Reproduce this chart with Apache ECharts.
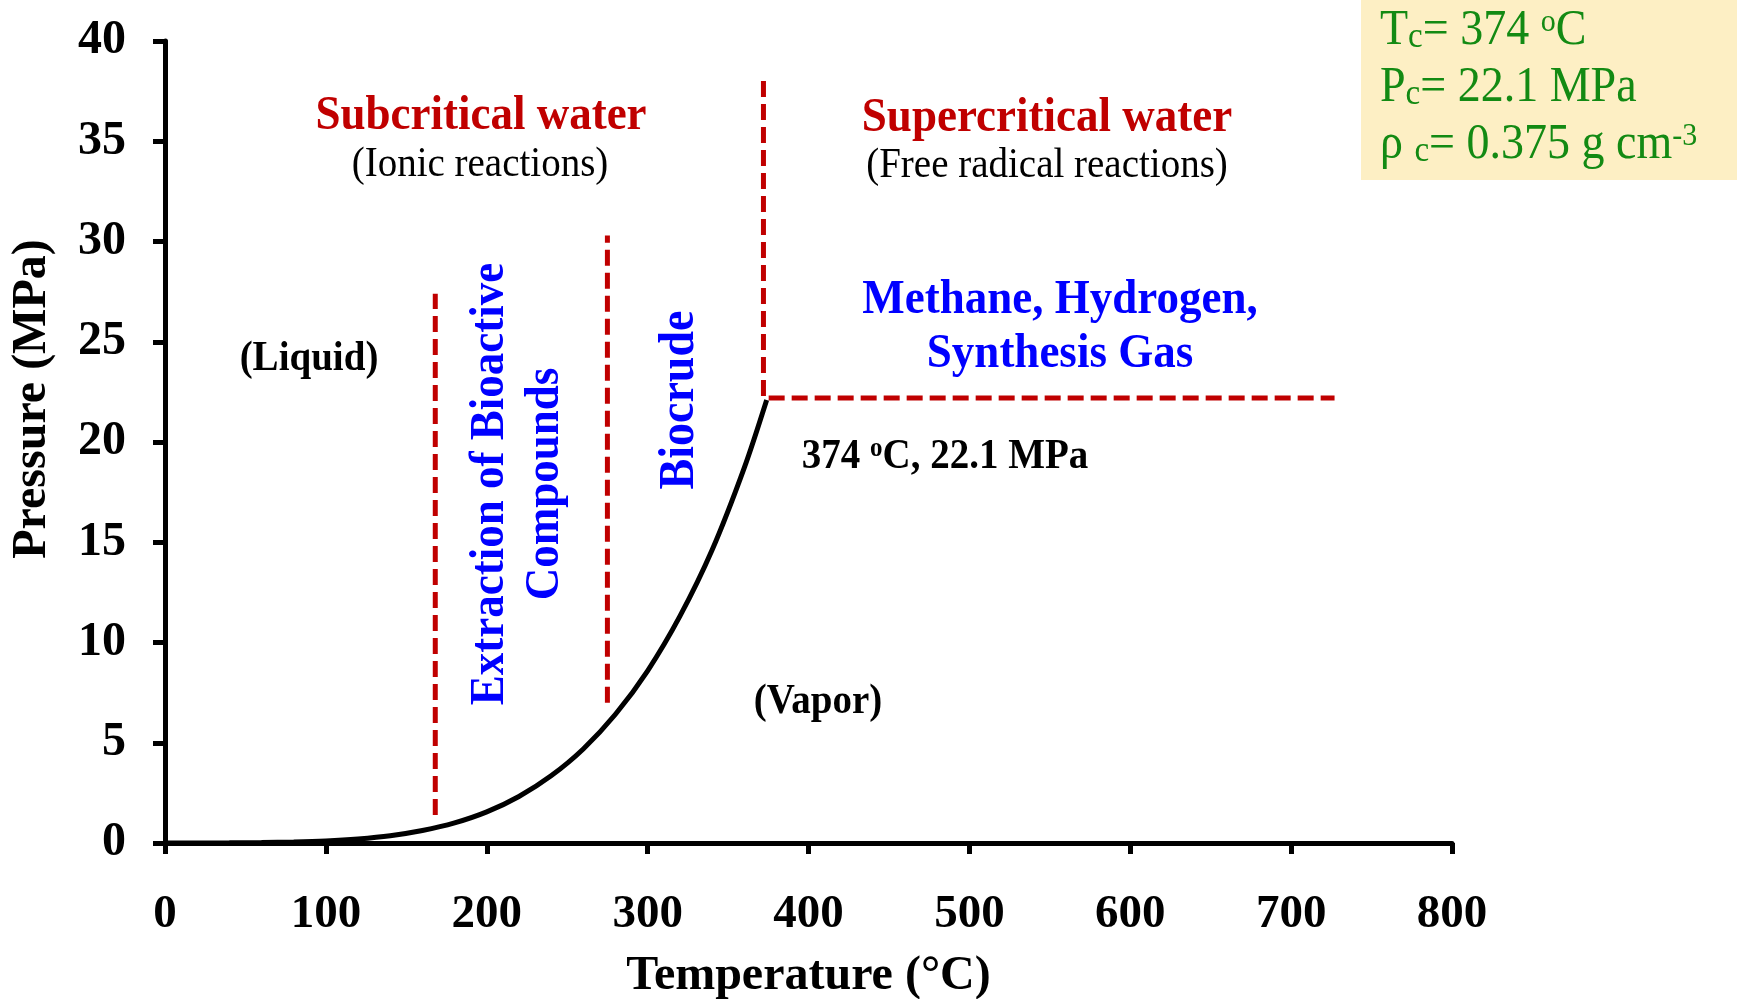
<!DOCTYPE html>
<html>
<head>
<meta charset="utf-8">
<script src="https://cdn.jsdelivr.net/npm/echarts@6/dist/echarts.min.js"></script>
<style>
  html, body { margin: 0; padding: 0; background: #fff; }
  #chart { width: 1737px; height: 999px; }
</style>
</head>
<body>
<div id="chart"></div>
<script>
// saturation curve of water (°C, MPa)
const curveTemps = [0, 20, 40, 60, 80, 100, 120, 140, 160, 180, 200, 220, 240, 260, 280, 300, 320, 340, 360, 374];
const curvePress = [0.0006, 0.0023, 0.0074, 0.02, 0.047, 0.10, 0.20, 0.36, 0.62, 1.0, 1.55, 2.32, 3.35, 4.69, 6.42, 8.59, 11.3, 14.6, 18.7, 22.1];

// red dashed region boundaries [temp, pressure]
const extractionLine = [[168, 1.4], [168, 27.4]];
const biocrudeLine = [[275, 7.0], [275, 30.3]];
const criticalLine = [[372, 38.0], [372, 22.2], [727, 22.2]];

const xTicks = { min: 0, max: 800, step: 100 };
const yTicks = { min: 0, max: 40, step: 5 };

const SERIF = "'Liberation Serif', 'Times New Roman', serif";
const RED = '#C00000';
const BLUE = '#0000FF';
const GREEN = '#138A13';

const chart = echarts.init(document.getElementById('chart'), null, { renderer: 'canvas' });

// text glyphs in the source are a little taller than wide
function txt(x, y, text, opts) {
  return {
    type: 'text', x, y, rotation: opts.rotation || 0, scaleY: opts.scaleY || 1.08, z: 10,
    style: Object.assign({
      text,
      fill: opts.color || '#000',
      fontFamily: SERIF,
      fontSize: opts.size || 40,
      fontWeight: opts.weight || 'bold',
      align: opts.align || 'center',
      verticalAlign: 'middle',
      textAlign: opts.align || 'center',
      textVerticalAlign: 'middle',
      lineHeight: opts.lineHeight
    }, opts.rich ? { rich: opts.rich } : {})
  };
}

const dashed = (data) => ({
  type: 'line', data, symbol: 'none', silent: true,
  lineStyle: { color: RED, width: 5, type: [16, 7] }
});

const boxRich = {
  n: { fontSize: 46, fontFamily: SERIF, fill: GREEN, color: GREEN },
  sub: { fontSize: 33, fontFamily: SERIF, fill: GREEN, color: GREEN, verticalAlign: 'bottom' },
  sup: { fontSize: 30, fontFamily: SERIF, fill: GREEN, color: GREEN, verticalAlign: 'top' }
};

chart.setOption({
  animation: false,
  backgroundColor: '#fff',
  grid: { left: 165, right: 285, top: 41, bottom: 156, containLabel: false, outerBoundsMode: 'none' },
  xAxis: {
    type: 'value', min: xTicks.min, max: xTicks.max, interval: xTicks.step,
    name: 'Temperature (°C)', nameLocation: 'middle', nameGap: 110,
    nameTextStyle: { fontFamily: SERIF, fontSize: 48, fontWeight: 'bold', color: '#000' },
    axisLine: { lineStyle: { color: '#000', width: 5 } },
    axisTick: { length: 11, lineStyle: { color: '#000', width: 5 } },
    axisLabel: { margin: 48, fontFamily: SERIF, fontSize: 47, fontWeight: 'bold', color: '#000' },
    splitLine: { show: false }
  },
  yAxis: {
    type: 'value', min: yTicks.min, max: yTicks.max, interval: yTicks.step,
    name: 'Pressure (MPa)', nameLocation: 'middle', nameGap: 108,
    nameTextStyle: { fontFamily: SERIF, fontSize: 48, fontWeight: 'bold', color: '#000', padding: [0, 0, 0, 86] },
    axisLine: { lineStyle: { color: '#000', width: 5 } },
    axisTick: { length: 12, lineStyle: { color: '#000', width: 5 } },
    axisLabel: { margin: 39, fontFamily: SERIF, fontSize: 48, fontWeight: 'bold', color: '#000' },
    splitLine: { show: false }
  },
  series: [
    {
      type: 'line', data: curveTemps.map((t, i) => [t, curvePress[i]]),
      smooth: 0.3, symbol: 'none', silent: true, z: 3,
      lineStyle: { color: '#000', width: 5 }
    },
    dashed(extractionLine),
    dashed(biocrudeLine),
    dashed(criticalLine)
  ],
  graphic: [
    txt(481, 116, 'Subcritical water', { color: RED, size: 45 }),
    txt(480, 165, '(Ionic reactions)', { size: 39, weight: 'normal' }),
    txt(1047, 118, 'Supercritical water', { color: RED, size: 45 }),
    txt(1047, 166, '(Free radical reactions)', { size: 39, weight: 'normal' }),
    txt(309, 359, '(Liquid)', { size: 39 }),
    txt(818, 702, '(Vapor)', { size: 39 }),
    txt(945, 457, '{n|374 }{sup|o}{n|C, 22.1 MPa}', {
      size: 39,
      rich: {
        n: { fontSize: 39, fontFamily: SERIF, fontWeight: 'bold', fill: '#000', color: '#000' },
        sup: { fontSize: 25, fontFamily: SERIF, fontWeight: 'bold', fill: '#000', color: '#000', verticalAlign: 'top' }
      }
    }),
    txt(1060, 327, 'Methane, Hydrogen,\nSynthesis Gas', { color: BLUE, size: 45, lineHeight: 50 }),
    txt(518, 484, 'Extraction of Bioactive\nCompounds', { color: BLUE, size: 45, lineHeight: 51, rotation: Math.PI / 2 }),
    txt(680, 400, 'Biocrude', { color: BLUE, size: 46, rotation: Math.PI / 2 }),
    {
      type: 'rect', z: 5,
      shape: { x: 1361, y: 0, width: 376, height: 180 },
      style: { fill: '#FDEFC4' }
    },
    txt(1380, 31, '{n|T}{sub|c}{n|= 374 }{sup|o}{n|C}', { align: 'left', size: 46, weight: 'normal', color: GREEN, rich: boxRich }),
    txt(1380, 88, '{n|P}{sub|c}{n|= 22.1 MPa}', { align: 'left', size: 46, weight: 'normal', color: GREEN, rich: boxRich }),
    txt(1380, 145, '{n|ρ }{sub|c}{n|= 0.375 g cm}{sup|-3}', { align: 'left', size: 46, weight: 'normal', color: GREEN, rich: boxRich })
  ]
});
</script>
</body>
</html>
